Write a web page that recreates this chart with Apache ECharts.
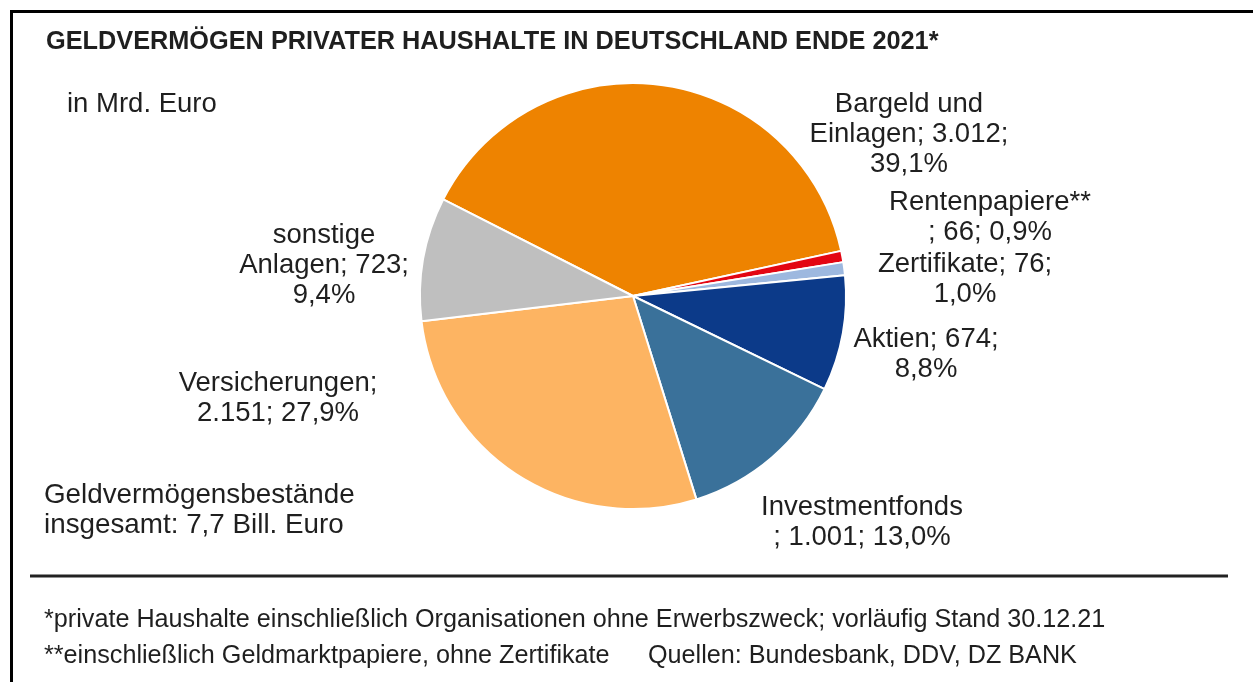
<!DOCTYPE html>
<html>
<head>
<meta charset="utf-8">
<script src="https://cdn.jsdelivr.net/npm/echarts@6/dist/echarts.min.js"></script>
<style>
  html, body { margin: 0; padding: 0; background: #fff; }
  #chart { width: 1253px; height: 682px; }
</style>
</head>
<body>
<div id="chart"></div>
<script>
// Geldvermögen in Mrd. Euro, Ende 2021
const categories = ['Bargeld und Einlagen', 'Rentenpapiere**', 'Zertifikate', 'Aktien',
  'Investmentfonds', 'Versicherungen', 'sonstige Anlagen'];
const values = [3012, 66, 76, 674, 1001, 2151, 723];
const labelTexts = [
  'Bargeld und\nEinlagen; 3.012;\n39,1%',
  'Rentenpapiere**\n; 66; 0,9%',
  'Zertifikate; 76;\n1,0%',
  'Aktien; 674;\n8,8%',
  'Investmentfonds\n; 1.001; 13,0%',
  'Versicherungen;\n2.151; 27,9%',
  'sonstige\nAnlagen; 723;\n9,4%'
];

// styling / layout only
const colors = ['#EE8300', '#E30613', '#9DB8DF', '#0C3A89', '#3A719A', '#FDB462', '#BFBFBF'];
const labelPos = [[909, 134], [990, 217], [965, 279], [926, 354], [862, 522], [278, 398], [324, 265]];
const font = 'Liberation Sans, Arial, sans-serif';
const ink = '#1f1f1f';

const chart = echarts.init(document.getElementById('chart'));

const option = {
  backgroundColor: '#fff',
  animation: false,
  series: [{
    type: 'pie',
    center: [633, 296],
    radius: 213,
    startAngle: 153,
    clockwise: true,
    avoidLabelOverlap: false,
    silent: true,
    itemStyle: { borderColor: '#fff', borderWidth: 2 },
    label: {
      show: true,
      position: 'outside',
      formatter: p => labelTexts[p.dataIndex],
      fontFamily: font,
      fontSize: 27.5,
      lineHeight: 30,
      color: ink,
      align: 'center'
    },
    labelLine: { show: false },
    labelLayout: p => ({
      x: labelPos[p.dataIndex][0],
      y: labelPos[p.dataIndex][1],
      align: 'center',
      verticalAlign: 'middle'
    }),
    data: categories.map((c, i) => ({ name: c, value: values[i], itemStyle: { color: colors[i] } }))
  }],
  graphic: [
    // frame
    { type: 'line', shape: { x1: 10, y1: 11.5, x2: 1253, y2: 11.5 }, style: { stroke: '#000', lineWidth: 3 } },
    { type: 'line', shape: { x1: 11.5, y1: 10, x2: 11.5, y2: 682 }, style: { stroke: '#000', lineWidth: 3 } },
    // title
    { type: 'text', left: 46, top: 30, style: {
      text: 'GELDVERMÖGEN PRIVATER HAUSHALTE IN DEUTSCHLAND ENDE 2021*',
      font: 'bold 25.3px ' + font, fill: ink } },
    { type: 'text', left: 67, top: 90, style: {
      text: 'in Mrd. Euro', font: '27.5px ' + font, fill: ink } },
    { type: 'text', left: 44, top: 480, style: {
      text: 'Geldvermögensbestände\ninsgesamt: 7,7 Bill. Euro', font: '27.8px ' + font, lineHeight: 30, fill: ink } },
    // separator
    { type: 'line', shape: { x1: 30, y1: 576, x2: 1228, y2: 576 }, style: { stroke: '#222', lineWidth: 3 } },
    // footnotes
    { type: 'text', left: 44, top: 608, style: {
      text: '*private Haushalte einschließlich Organisationen ohne Erwerbszweck; vorläufig Stand 30.12.21',
      font: '25.2px ' + font, fill: ink } },
    { type: 'text', left: 44, top: 644, style: {
      text: '**einschließlich Geldmarktpapiere, ohne Zertifikate', font: '25.2px ' + font, fill: ink } },
    { type: 'text', left: 648, top: 644, style: {
      text: 'Quellen: Bundesbank, DDV, DZ BANK', font: '25.2px ' + font, fill: ink } }
  ]
};

chart.setOption(option);
</script>
</body>
</html>
